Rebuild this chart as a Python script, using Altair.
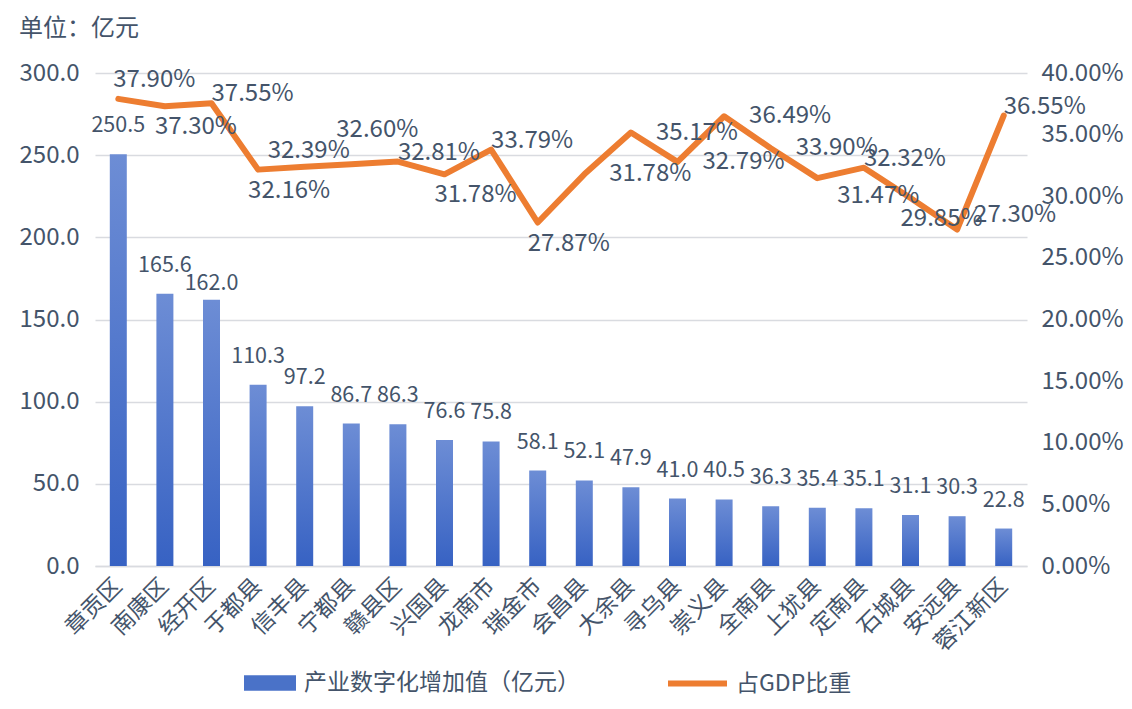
import altair as alt
import pandas as pd

# ---- data ----
categories = ["章贡区", "南康区", "经开区", "于都县", "信丰县", "宁都县", "赣县区", "兴国县", "龙南市", "瑞金市",
              "会昌县", "大余县", "寻乌县", "崇义县", "全南县", "上犹县", "定南县", "石城县", "安远县", "蓉江新区"]
values = [250.5, 165.6, 162.0, 110.3, 97.2, 86.7, 86.3, 76.6, 75.8, 58.1,
          52.1, 47.9, 41.0, 40.5, 36.3, 35.4, 35.1, 31.1, 30.3, 22.8]
shares = [0.3790, 0.3730, 0.3755, 0.3216, 0.3239, 0.3260, 0.3281, 0.3178, 0.3379, 0.2787,
          0.3178, 0.3517, 0.3279, 0.3649, 0.3390, 0.3147, 0.3232, 0.2985, 0.2730, 0.3655]
# where each percentage label sits relative to its point
label_place = ["above", "below", "upright", "below", "aboveleft", "high", "upright", "below", "upright", "below",
               "right", "right", "right", "right", "right", "belowright", "upright", "below", "rightup", "upright"]
# where each value label sits above its bar
bar_label_place = ["far", "far", "near", "far", "far", "far", "far", "far", "far", "far",
                   "far", "far", "far", "far", "far", "far", "far", "far", "far", "far"]
left_ticks = [0, 50, 100, 150, 200, 250, 300]
right_ticks = [0, 0.05, 0.10, 0.15, 0.20, 0.25, 0.30, 0.35, 0.40]
bar_name = "产业数字化增加值（亿元）"
line_name = "占GDP比重"
unit_title = "单位：亿元"

df = pd.DataFrame({"cat": categories, "value": values, "share": shares,
                   "place": label_place, "bplace": bar_label_place})

TEXT = "#44546a"
GRID = "#d9dbe0"
FONT = "Noto Sans CJK SC"
FS = 24

x_enc = alt.X("cat:N", sort=categories, title=None,
              scale=alt.Scale(paddingInner=0, paddingOuter=0),
              axis=alt.Axis(labelAngle=-45, labelAlign="right", labelBaseline="middle",
                            labelPadding=16, labelFontSize=23, labelColor=TEXT,
                            ticks=False, domain=True, domainColor=GRID, domainWidth=1.5))
y_left = alt.Y("value:Q", title=None,
               scale=alt.Scale(domain=[0, 300], nice=False, zero=True),
               axis=alt.Axis(values=left_ticks, format=".1f", labelFontSize=FS, labelColor=TEXT,
                             labelPadding=16, ticks=False, domain=False,
                             gridColor=GRID, gridWidth=1.5))
y_right = alt.Y("share:Q", title=None,
                scale=alt.Scale(domain=[0, 0.40], nice=False, zero=True),
                axis=alt.Axis(orient="right", values=right_ticks, format=".2%", labelFontSize=FS,
                              labelColor=TEXT, labelPadding=14, ticks=False, domain=False, grid=False))

base = alt.Chart(df)

bar_grad = alt.Gradient(
    gradient="linear",
    stops=[alt.GradientStop(color="#6d8dd5", offset=0),
           alt.GradientStop(color="#3762c3", offset=1)],
    x1=0, x2=0, y1=0, y2=1,
)

bars = base.mark_bar(size=17, color=bar_grad).encode(x=x_enc, y=y_left)

bar_texts = []
for bp, ddy in {"far": -28, "near": -16}.items():
    bar_texts.append(
        base.transform_filter(alt.datum.bplace == bp)
        .mark_text(baseline="middle", dy=ddy, fontSize=21.5, color=TEXT)
        .encode(x=x_enc, y=y_left, text=alt.Text("value:Q", format=".1f"))
    )

bar_legend = (
    base.transform_calculate(series=f"'{bar_name}'")
    .transform_filter("false")
    .mark_bar()
    .encode(
        x=x_enc, y=y_left,
        fill=alt.Fill("series:N",
                      scale=alt.Scale(domain=[bar_name], range=["#4a72c8"]),
                      legend=alt.Legend(orient="none", legendX=149, legendY=584, title=None,
                                        symbolType="M-1,-0.3L1,-0.3L1,0.3L-1,0.3Z",
                                        symbolSize=2704, symbolStrokeWidth=0,
                                        labelFontSize=23, labelColor=TEXT, labelOffset=8,
                                        labelLimit=0, labelFont=FONT)))
)

line = (
    base.transform_calculate(series2=f"'{line_name}'")
    .mark_line(strokeWidth=6, strokeJoin="round", strokeCap="round")
    .encode(
        x=x_enc, y=y_right,
        stroke=alt.Stroke("series2:N",
                          scale=alt.Scale(domain=[line_name], range=["#ed7d31"]),
                          legend=alt.Legend(orient="none", legendX=570, legendY=578, title=None,
                                            symbolType="M-1,0L1,0", symbolSize=3481,
                                            symbolStrokeWidth=6,
                                            labelFontSize=23, labelColor=TEXT, labelOffset=6,
                                            labelLimit=0, labelFont=FONT)))
)

offsets = {
    "above": (-5, -19),
    "aboveleft": (-37, -16),
    "high": (-15, -34),
    "upright": (0, -9),
    "below": (-10, 21),
    "belowright": (20, 18),
    "right": (25, 0),
    "rightup": (17, -15),
}
line_texts = []
for place, (ddx, ddy) in offsets.items():
    line_texts.append(
        base.transform_filter(alt.datum.place == place)
        .mark_text(align="left", baseline="middle", dx=ddx, dy=ddy, fontSize=FS, color=TEXT)
        .encode(x=x_enc, y=y_right, text=alt.Text("share:Q", format=".2%"))
    )

left = alt.layer(bars, *bar_texts, bar_legend)
right = alt.layer(line, *line_texts)

chart = (
    alt.layer(left, right)
    .resolve_scale(y="independent", fill="independent", stroke="independent")
    .properties(
        width=932, height=493, autosize="none",
        padding={"left": 87, "top": 65, "right": 97, "bottom": 134},
        title=alt.TitleParams(unit_title, anchor="start", frame="bounds", fontSize=24,
                              color=TEXT, fontWeight="normal", offset=20, font=FONT),
    )
    .configure(font=FONT)
    .configure_view(stroke=None)
    .configure_axis(labelFont=FONT)
)

chart.save("out.html", embed_options={"renderer": "svg", "actions": False})
